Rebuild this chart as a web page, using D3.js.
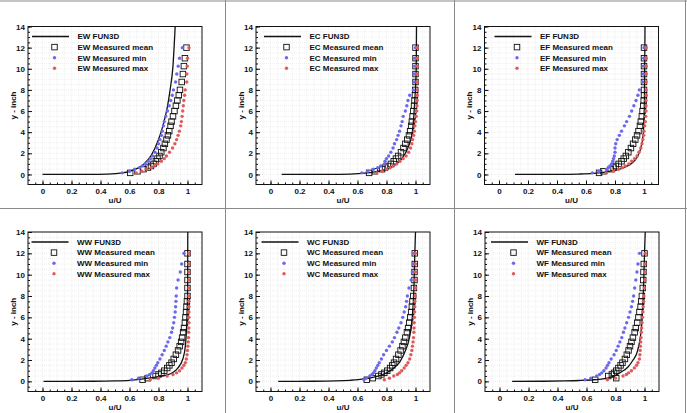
<!DOCTYPE html>
<html>
<head>
<meta charset="utf-8">
<script src="https://d3js.org/d3.v7.min.js"></script>
<style>
  body { margin: 0; background: #fff; }
  text { font-family: "Liberation Sans", Arial, sans-serif; font-weight: bold; fill: #111; }
</style>
</head>
<body>
<svg width="687" height="413"></svg>
<script>
// ---- data ----
const panelNames = ["EW", "EC", "EF", "WW", "WC", "WF"];

// measurement heights (inch)
const yLevels = [0.15, 0.3, 0.5, 0.65, 0.8, 1.0, 1.25, 1.5, 1.75, 2.1, 2.5, 2.9, 3.3, 3.7,
                 4.1, 4.6, 5.0, 5.5, 6.0, 6.5, 7.0, 7.5, 8.0, 8.75, 9.5, 10.25, 11, 12];

const ewMean = [0.605,0.655,0.697,0.727,0.748,0.766,0.782,0.793,0.807,0.819,0.834,0.844,0.855,0.865,0.874,0.883,0.890,0.900,0.910,0.920,0.930,0.940,0.948,0.960,0.968,0.975,0.982,0.993];
const ewMin  = [0.550,0.600,0.635,0.669,0.690,0.710,0.730,0.745,0.760,0.775,0.790,0.800,0.810,0.820,0.826,0.834,0.840,0.850,0.862,0.874,0.884,0.895,0.903,0.918,0.926,0.936,0.945,0.965];
const ewMax  = [0.646,0.685,0.720,0.750,0.770,0.795,0.820,0.840,0.855,0.876,0.897,0.913,0.925,0.935,0.944,0.953,0.958,0.963,0.967,0.971,0.975,0.980,0.984,0.995,0.995,0.998,1.000,1.010];

const ecMean = [0.680,0.720,0.770,0.790,0.810,0.830,0.850,0.865,0.880,0.900,0.917,0.930,0.943,0.955,0.963,0.970,0.975,0.980,0.985,0.990,0.993,0.996,0.998,1.000,1.000,1.000,1.000,1.000];
const ecMin  = [0.630,0.670,0.710,0.740,0.760,0.785,0.790,0.800,0.815,0.830,0.845,0.855,0.870,0.880,0.890,0.900,0.908,0.915,0.930,0.940,0.948,0.960,0.985,0.990,0.990,0.995,0.995,1.000];
const ecMax  = [0.733,0.770,0.800,0.825,0.847,0.870,0.893,0.915,0.935,0.953,0.966,0.975,0.980,0.987,0.992,0.996,1.000,1.005,1.008,1.010,1.012,1.012,1.012,1.012,1.012,1.012,1.012,1.012];

const efMean = [0.690,0.720,0.770,0.790,0.805,0.825,0.845,0.860,0.875,0.892,0.910,0.925,0.940,0.952,0.962,0.972,0.978,0.985,0.990,0.995,0.998,1.000,1.000,1.000,1.000,1.000,1.000,1.000];
const efMin  = [0.644,0.690,0.742,0.755,0.765,0.776,0.785,0.790,0.795,0.800,0.800,0.805,0.815,0.830,0.845,0.865,0.880,0.900,0.915,0.930,0.945,0.958,0.968,0.990,0.995,0.995,0.998,1.000];
const efMax  = [0.742,0.790,0.825,0.850,0.870,0.895,0.915,0.935,0.952,0.965,0.978,0.986,0.992,0.998,1.000,1.005,1.009,1.012,1.014,1.014,1.014,1.015,1.015,1.015,1.015,1.015,1.015,1.015];

const wwMean = [0.690,0.725,0.780,0.800,0.820,0.840,0.860,0.875,0.890,0.905,0.920,0.935,0.946,0.956,0.963,0.970,0.976,0.982,0.986,0.990,0.993,0.996,1.000,1.000,1.000,1.000,1.000,1.000];
const wwMin  = [0.616,0.662,0.720,0.740,0.755,0.765,0.775,0.785,0.795,0.810,0.825,0.840,0.853,0.865,0.878,0.890,0.897,0.905,0.910,0.915,0.918,0.920,0.922,0.925,0.935,0.950,0.960,0.975];
const wwMax  = [0.743,0.800,0.860,0.900,0.925,0.945,0.962,0.975,0.985,0.992,0.997,1.000,1.003,1.005,1.007,1.008,1.009,1.010,1.010,1.010,1.010,1.010,1.010,1.010,1.010,1.010,1.010,1.010];

const wcMean = [0.664,0.705,0.744,0.765,0.785,0.805,0.825,0.840,0.852,0.866,0.882,0.897,0.910,0.920,0.930,0.941,0.949,0.957,0.964,0.970,0.975,0.979,0.984,0.989,0.993,0.993,0.995,0.995];
const wcMin  = [0.645,0.660,0.685,0.700,0.710,0.720,0.730,0.740,0.750,0.765,0.780,0.800,0.820,0.840,0.855,0.872,0.885,0.900,0.912,0.922,0.932,0.938,0.944,0.955,0.970,0.978,0.985,0.990];
const wcMax  = [0.785,0.820,0.850,0.875,0.890,0.905,0.922,0.935,0.948,0.960,0.968,0.975,0.979,0.983,0.986,0.989,0.990,0.991,0.992,0.994,0.995,0.996,0.998,1.000,1.000,1.000,1.000,1.000];

const wfMean = [0.660,0.805,0.750,0.775,0.790,0.805,0.820,0.835,0.848,0.865,0.878,0.890,0.900,0.910,0.920,0.932,0.940,0.950,0.958,0.965,0.973,0.978,0.982,0.988,0.991,0.993,0.995,1.000];
const wfMin  = [0.590,0.630,0.670,0.690,0.705,0.720,0.735,0.745,0.755,0.770,0.790,0.805,0.818,0.830,0.843,0.855,0.865,0.877,0.890,0.900,0.910,0.918,0.925,0.932,0.940,0.948,0.955,0.966];
const wfMax  = [0.744,0.800,0.852,0.875,0.890,0.910,0.930,0.945,0.955,0.965,0.968,0.970,0.972,0.974,0.976,0.978,0.980,0.983,0.986,0.989,0.991,0.993,0.995,1.000,1.002,1.003,1.004,1.005];

// FUN3D profiles (u/U, y)
const ewCfdU = [0.000,0.300,0.450,0.550,0.600,0.650,0.700,0.750,0.800,0.830,0.860,0.880,0.900,0.915];
const ewCfdY = [0,    0.01, 0.04, 0.15, 0.30, 0.55, 1.00, 1.80, 3.30, 4.60, 6.30, 8.00, 10.3, 14];
const ecCfdU = [0.077,0.400,0.550,0.650,0.720,0.790,0.850,0.900,0.950,0.977,0.995,1.005,1.007];
const ecCfdY = [0,    0.01, 0.04, 0.12, 0.25, 0.45, 0.80, 1.40, 2.60, 3.90, 7.00, 10.0, 14];
const efCfdU = [0.110,0.400,0.550,0.650,0.720,0.800,0.870,0.920,0.955,0.980,0.995,1.003,1.007];
const efCfdY = [0,    0.01, 0.04, 0.10, 0.20, 0.40, 0.70, 1.10, 1.70, 2.60, 3.90, 7.00, 14];
const wwCfdU = [0.007,0.350,0.500,0.600,0.700,0.780,0.860,0.930,0.968,0.986,0.995,1.001,1.002];
const wwCfdY = [0,    0.01, 0.04, 0.10, 0.25, 0.40, 0.60, 1.20, 2.10, 3.40, 5.60, 9.00, 14];
const wcCfdU = [0.053,0.300,0.450,0.550,0.606,0.720,0.790,0.847,0.892,0.927,0.957,0.977,0.989,0.995,1.000];
const wcCfdY = [0,    0.01, 0.04, 0.10, 0.16, 0.41, 0.72, 1.20, 1.82, 2.77, 4.03, 5.90, 8.74, 11.9, 14];
const wfCfdU = [0.087,0.300,0.450,0.550,0.650,0.726,0.790,0.840,0.886,0.920,0.950,0.970,0.984,0.993,1.000,1.005];
const wfCfdY = [0,    0.01, 0.04, 0.08, 0.15, 0.25, 0.50, 0.88, 1.35, 1.98, 2.77, 4.03, 5.90, 8.74, 11.9, 14];

const xTicks = [0, 0.2, 0.4, 0.6, 0.8, 1];
const xTickLabels = ["0", "0.2", "0.4", "0.6", "0.8", "1"];
const yTicks = [0, 2, 4, 6, 8, 10, 12, 14];
const xMinor = d3.range(-0.05, 1.1, 0.05);
const yMinor = d3.range(-0.5, 14.01, 0.5);

const meanSets = [ewMean, ecMean, efMean, wwMean, wcMean, wfMean];
const minSets  = [ewMin, ecMin, efMin, wwMin, wcMin, wfMin];
const maxSets  = [ewMax, ecMax, efMax, wwMax, wcMax, wfMax];
const cfdU = [ewCfdU, ecCfdU, efCfdU, wwCfdU, wcCfdU, wfCfdU];
const cfdY = [ewCfdY, ecCfdY, efCfdY, wwCfdY, wcCfdY, wfCfdY];

// ---- layout ----
const boxes = [
  {left: 28,    top: 26.5, w: 174, h: 158},
  {left: 256,   top: 26.5, w: 174, h: 158},
  {left: 484.5, top: 26.5, w: 174, h: 158},
  {left: 28,    top: 232,  w: 174, h: 159.5},
  {left: 256,   top: 232,  w: 174, h: 159.5},
  {left: 485,   top: 232,  w: 174, h: 159.5}
];
const legendLeft = [4, 8, 10, 3.5, 5.5, 6];
const blue = "#6c68ee";
const red = "#e05a5a";

const svg = d3.select("svg");

// panel frames
svg.append("g").selectAll("line")
  .data([[0, 1, 687, 1], [685.5, 0, 685.5, 413], [225.5, 0, 225.5, 413], [454.5, 0, 454.5, 413], [0, 208.5, 687, 208.5]])
  .enter().append("line")
  .attr("x1", d => d[0]).attr("y1", d => d[1]).attr("x2", d => d[2]).attr("y2", d => d[3])
  .attr("stroke", "#8a8a8a").attr("stroke-width", 1);

panelNames.forEach(function(name, i) {
  const b = boxes[i];
  const g = svg.append("g").attr("transform", "translate(" + b.left + "," + b.top + ")");
  const x = d3.scaleLinear().domain([-0.1, 1.1]).range([0, b.w]);
  const y = d3.scaleLinear().domain([-0.95, 14]).range([b.h, 0]);

  g.append("clipPath").attr("id", "clip" + i)
    .append("rect").attr("width", b.w).attr("height", b.h);

  // faint grid
  g.append("g").selectAll("line").data(xMinor).enter().append("line")
    .attr("x1", d => x(d)).attr("x2", d => x(d)).attr("y1", 0).attr("y2", b.h)
    .attr("stroke", "#e4e4e4").attr("stroke-width", 0.6).attr("stroke-dasharray", "1,1");
  g.append("g").selectAll("line").data(yMinor).enter().append("line")
    .attr("y1", d => y(d)).attr("y2", d => y(d)).attr("x1", 0).attr("x2", b.w)
    .attr("stroke", "#e4e4e4").attr("stroke-width", 0.6).attr("stroke-dasharray", "1,1");

  // axes, ticks pointing inward
  const xAxis = g.append("g").attr("transform", "translate(0," + b.h + ")")
    .call(d3.axisBottom(x).tickValues(xTicks).tickSize(-4).tickPadding(4)
      .tickFormat((d, k) => xTickLabels[k]));
  const xAxisMinor = g.append("g").attr("transform", "translate(0," + b.h + ")")
    .call(d3.axisBottom(x).tickValues(xMinor).tickSize(-2).tickFormat(""));
  const yAxis = g.append("g")
    .call(d3.axisLeft(y).tickValues(yTicks).tickSize(-4).tickPadding(3));
  const yAxisMinor = g.append("g")
    .call(d3.axisLeft(y).tickValues(yMinor).tickSize(-2).tickFormat(""));
  [xAxis, xAxisMinor, yAxis, yAxisMinor].forEach(function(a) {
    a.select(".domain").remove();
    a.selectAll("line").attr("stroke", "#111");
    a.selectAll("text").style("font-size", "8px").style("font-family", "'Liberation Sans', Arial, sans-serif")
      .style("font-weight", "bold").attr("fill", "#111");
  });

  g.append("rect").attr("width", b.w).attr("height", b.h)
    .attr("fill", "none").attr("stroke", "#111").attr("stroke-width", 1);

  // axis titles
  g.append("text").attr("x", b.w / 2).attr("y", b.h + 18)
    .attr("text-anchor", "middle").style("font-size", "8px").text("u/U");
  g.append("text").attr("transform", "translate(-15," + (b.h / 2) + ") rotate(-90)")
    .attr("text-anchor", "middle").attr("dy", "0.35em").style("font-size", "8px").text("y - inch");

  // FUN3D line
  const pts = cfdU[i].map((u, k) => [u, cfdY[i][k]]);
  g.append("path").datum(pts)
    .attr("clip-path", "url(#clip" + i + ")")
    .attr("fill", "none").attr("stroke", "#111").attr("stroke-width", 1.3)
    .attr("d", d3.line().x(d => x(d[0])).y(d => y(d[1])).curve(d3.curveMonotoneX));

  // measured mean (open squares)
  g.append("g").selectAll("rect").data(meanSets[i]).enter().append("rect")
    .attr("x", d => x(d) - 2.75).attr("y", (d, k) => y(yLevels[k]) - 2.75)
    .attr("width", 5.5).attr("height", 5.5)
    .attr("fill", "none").attr("stroke", "#111").attr("stroke-width", 0.9);

  // measured min / max (dots)
  g.append("g").selectAll("circle").data(minSets[i]).enter().append("circle")
    .attr("cx", d => x(d)).attr("cy", (d, k) => y(yLevels[k])).attr("r", 1.7)
    .attr("fill", blue);
  g.append("g").selectAll("circle").data(maxSets[i]).enter().append("circle")
    .attr("cx", d => x(d)).attr("cy", (d, k) => y(yLevels[k])).attr("r", 1.7)
    .attr("fill", red);

  // legend
  const lx = legendLeft[i];
  const rows = [10, 20.6, 31.2, 41.8];
  g.append("line").attr("x1", lx).attr("x2", lx + 37).attr("y1", rows[0]).attr("y2", rows[0])
    .attr("stroke", "#111").attr("stroke-width", 1.3);
  g.append("rect").attr("x", lx + 19.75).attr("y", rows[1] - 2.75).attr("width", 5.5).attr("height", 5.5)
    .attr("fill", "none").attr("stroke", "#111").attr("stroke-width", 0.9);
  g.append("circle").attr("cx", lx + 22.5).attr("cy", rows[2]).attr("r", 1.7).attr("fill", blue);
  g.append("circle").attr("cx", lx + 22.5).attr("cy", rows[3]).attr("r", 1.7).attr("fill", red);
  const labels = [name + " FUN3D", name + " Measured mean", name + " Measured min", name + " Measured max"];
  g.append("g").selectAll("text").data(labels).enter().append("text")
    .attr("x", lx + 45.5).attr("y", (d, k) => rows[k]).attr("dy", "0.35em")
    .style("font-size", "8px").text(d => d);
});
</script>
</body>
</html>
